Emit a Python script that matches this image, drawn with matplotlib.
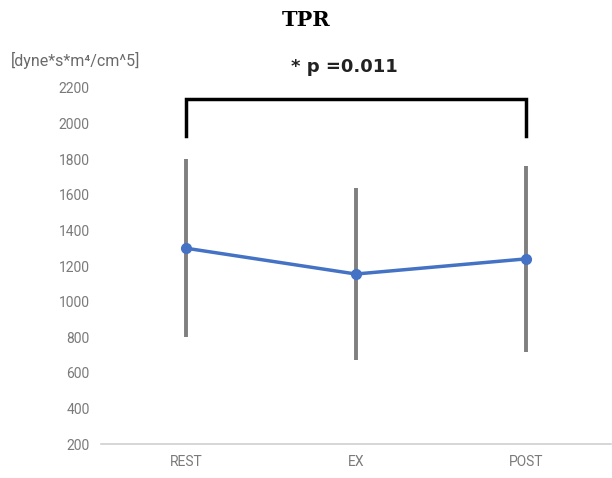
import matplotlib
matplotlib.use("Agg")
import matplotlib.pyplot as plt

# values
phases = ["REST", "EX", "POST"]
tpr_mean = [1300, 1155, 1240]
tpr_sd = [500, 485, 522]
bracket_y = 2140
bracket_drop = 210
y_ticks = [200, 400, 600, 800, 1000, 1200, 1400, 1600, 1800, 2000, 2200]

fig = plt.figure(figsize=(6.12, 4.78), dpi=100)
ax = fig.add_axes([0.165, 0.071, 0.833, 0.745])

x = range(len(phases))
ax.errorbar(x, tpr_mean, yerr=tpr_sd, fmt="none", ecolor="#7f7f7f",
            elinewidth=2.8, capsize=0, zorder=1)
ax.plot(x, tpr_mean, color="#4472C4", lw=2.5, marker="o", ms=7, zorder=2)

# significance bracket
ax.plot([0, 0, 2, 2], [bracket_y - bracket_drop, bracket_y, bracket_y, bracket_y - bracket_drop],
        color="black", lw=2.5, solid_joinstyle="miter", clip_on=False)

ax.set_xlim(-0.5, 2.5)
ax.set_ylim(200, 2200)
ax.set_yticks(y_ticks)
ax.set_xticks(list(x))
ax.set_xticklabels(phases)
ax.tick_params(axis="both", length=0, labelsize=10, labelcolor="#7a7a7a", pad=8)
for lab in ax.get_xticklabels() + ax.get_yticklabels():
    lab.set_family("Roboto")
for s in ["top", "right", "left"]:
    ax.spines[s].set_visible(False)
ax.spines["bottom"].set_color("#d0d0d0")
ax.spines["bottom"].set_linewidth(1.2)

fig.text(0.5, 0.958, "TPR", ha="center", va="center", fontsize=15,
         fontweight="bold", family="DejaVu Serif")
fig.text(0.562, 0.86, "* p =0.011", ha="center", va="center", fontsize=13,
         fontweight="bold", color="#222222")
fig.text(0.018, 0.873, "[dyne*s*m⁴/cm^5]", ha="left", va="center",
         fontsize=11.5, color="#6a6a6a", family="Roboto")

fig.savefig("out.png", dpi=100)
